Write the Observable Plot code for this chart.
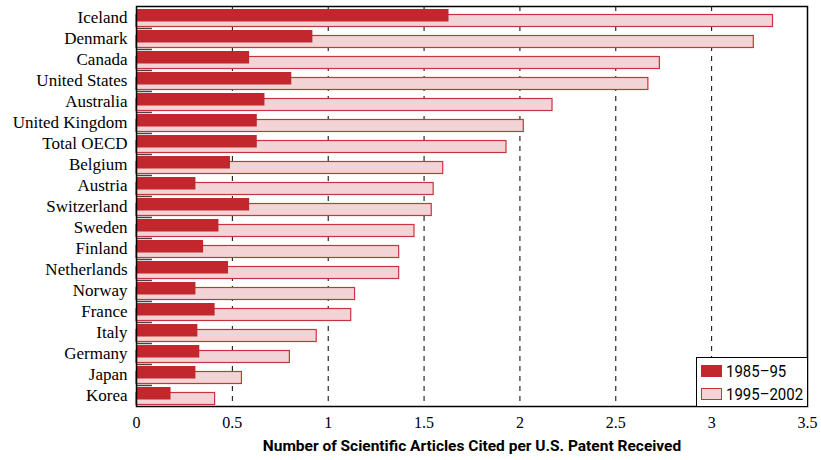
<!DOCTYPE html>
<html><head><meta charset="utf-8">
<script src="https://cdn.jsdelivr.net/npm/d3@7"></script>
<script src="https://cdn.jsdelivr.net/npm/@observablehq/plot@0.6"></script>
<style>
body{margin:0;background:#fff;}
#wrap{position:relative;width:821px;height:460px;}
.legend{position:absolute;left:696px;top:357px;width:111px;height:49px;border:1.5px solid #000;border-right:none;border-bottom:none;background:#fff;box-sizing:border-box;font-family:Roboto,sans-serif;font-size:17px;color:#000;white-space:nowrap;overflow:hidden;}
.legend .item{position:absolute;left:4px;display:flex;align-items:center;height:14px;}
.legend .sw{width:21px;height:12px;box-sizing:border-box;margin-right:4px;flex:none;}
.legend span{display:inline-block;transform:scaleX(0.88);transform-origin:left center;}
</style></head><body><div id="wrap"></div>
<script>
const countries = ["Iceland","Denmark","Canada","United States","Australia","United Kingdom","Total OECD","Belgium","Austria","Switzerland","Sweden","Finland","Netherlands","Norway","France","Italy","Germany","Japan","Korea"];
const v1985_95 = [1.63,0.92,0.59,0.81,0.67,0.63,0.63,0.49,0.31,0.59,0.43,0.35,0.48,0.31,0.41,0.32,0.33,0.31,0.18];
const v1995_2002 = [3.32,3.22,2.73,2.67,2.17,2.02,1.93,1.60,1.55,1.54,1.45,1.37,1.37,1.14,1.12,0.94,0.80,0.55,0.41];
const seriesNames = ["1985–95","1995–2002"];
const xTicks = [0,0.5,1,1.5,2,2.5,3,3.5];
const gridTicks = [0.5,1,1.5,2,2.5,3];
const xLabel = "Number of Scientific Articles Cited per U.S. Patent Received";

const darkRed = "#c1272d", pinkFill = "#f2d3d6", pinkStroke = "#c8343b";
const rows = countries.map((c,i)=>({country:c, a:v1985_95[i], b:v1995_2002[i]}));
const band = 400 / countries.length;

const plot = Plot.plot({
  width: 821, height: 460,
  marginLeft: 136, marginRight: 14, marginTop: 6, marginBottom: 54,
  x: {domain: [0, 3.5]},
  y: {domain: countries, padding: 0},
  style: {fontFamily: "'Liberation Serif', serif", fontSize: "16px", color: "#000", background: "#fff"},
  marks: [
    Plot.ruleX(gridTicks, {x: d => d, stroke: "#000", strokeDasharray: "5,5", strokeWidth: 1}),
    Plot.barX(rows, {y: "country", x: "b", fill: pinkFill, stroke: pinkStroke, strokeWidth: 1.2, insetTop: 7.5, insetBottom: 1.5}),
    Plot.barX(rows, {y: "country", x: "a", fill: darkRed, insetTop: 2, insetBottom: 6.5}),
    Plot.ruleY(countries.slice(1), {y: d => d, x1: 0, x2: 0.083, dy: -band / 2, stroke: "#444", strokeWidth: 1.5}),
    Plot.ruleX(gridTicks, {x: d => d, y: () => countries[countries.length - 1], insetTop: 17, stroke: "#000", strokeWidth: 1}),
    Plot.axisY({tickSize: 0, tickPadding: 9, fontSize: 17, label: null}),
    Plot.axisX({ticks: xTicks, tickSize: 0, tickPadding: 10, tickFormat: d => String(d), label: null}),
    Plot.text([xLabel], {frameAnchor: "bottom", dy: 44, text: d => d, fontFamily: "Roboto, sans-serif", fontWeight: "bold", fontSize: 15.5, fill: "#000"}),
    Plot.frame({stroke: "#000", strokeWidth: 1.5})
  ]
});
document.getElementById("wrap").appendChild(plot);

const leg = document.createElement("div");
leg.className = "legend";
leg.innerHTML = `<div class="item" style="top:6px"><div class="sw" style="background:${darkRed}"></div><span>${seriesNames[0]}</span></div>
<div class="item" style="top:29px"><div class="sw" style="background:${pinkFill};border:1.3px solid ${pinkStroke}"></div><span>${seriesNames[1]}</span></div>`;
document.getElementById("wrap").appendChild(leg);
</script></body></html>
